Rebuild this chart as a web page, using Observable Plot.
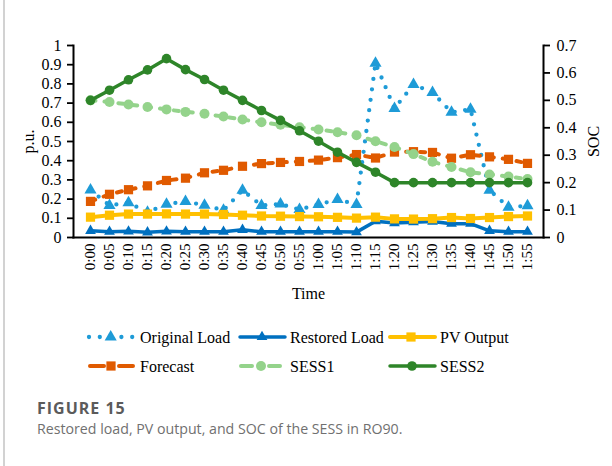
<!DOCTYPE html>
<html>
<head>
<meta charset="utf-8">
<script src="https://cdn.jsdelivr.net/npm/d3@7"></script>
<script src="https://cdn.jsdelivr.net/npm/@observablehq/plot@0.6"></script>
<style>
  html, body { margin: 0; padding: 0; background: #fff; }
  #fig { position: relative; width: 612px; height: 466px; overflow: hidden; background: #fff; }
  #border { position: absolute; left: 3px; top: 0; width: 1.5px; height: 466px; background: #d2d2d2; }
  #chart { position: absolute; left: 0; top: 0; }
  #legend { position: absolute; left: 0; top: 310px; }
  #figlabel { position: absolute; left: 37px; top: 397px; font-family: "Open Sans", sans-serif; font-weight: 700; font-size: 16px; color: #5b5b5b; letter-spacing: 1px; }
  #figcap { position: absolute; left: 37px; top: 419px; font-family: "Open Sans", sans-serif; font-size: 14.2px; color: #707070; }
</style>
</head>
<body>
<div id="fig">
  <div id="border"></div>
  <div id="chart"></div>
  <div id="legend"></div>
  <div id="figlabel">FIGURE 15</div>
  <div id="figcap">Restored load, PV output, and SOC of the SESS in RO90.</div>
</div>
<script>
// ---- data ----
const times = ["0:00","0:05","0:10","0:15","0:20","0:25","0:30","0:35","0:40","0:45","0:50","0:55",
               "1:00","1:05","1:10","1:15","1:20","1:25","1:30","1:35","1:40","1:45","1:50","1:55"];
// left axis (p.u.)
const originalLoad = [0.248,0.167,0.181,0.132,0.173,0.188,0.168,0.142,0.246,0.167,0.174,0.146,
                      0.172,0.198,0.172,0.908,0.672,0.797,0.755,0.652,0.668,0.246,0.158,0.165];
const restoredLoad = [0.035,0.030,0.032,0.027,0.032,0.030,0.030,0.030,0.040,0.030,0.030,0.030,
                      0.030,0.030,0.028,0.085,0.075,0.080,0.083,0.072,0.072,0.035,0.030,0.030];
const pvOutput     = [0.106,0.116,0.122,0.122,0.123,0.122,0.122,0.120,0.116,0.112,0.111,0.109,
                      0.108,0.105,0.101,0.106,0.097,0.096,0.098,0.104,0.099,0.104,0.109,0.112];
const forecast     = [0.188,0.225,0.249,0.269,0.297,0.309,0.337,0.350,0.371,0.385,0.391,0.396,
                      0.403,0.416,0.432,0.414,0.445,0.447,0.443,0.413,0.431,0.420,0.407,0.386];
// right axis (SOC)
const sess1        = [0.500,0.494,0.485,0.476,0.467,0.458,0.451,0.441,0.430,0.420,0.411,0.402,
                      0.394,0.384,0.373,0.351,0.330,0.304,0.276,0.257,0.238,0.230,0.222,0.213];
const sess2        = [0.500,0.537,0.575,0.611,0.652,0.612,0.576,0.537,0.500,0.463,0.427,0.389,
                      0.351,0.311,0.274,0.238,0.200,0.200,0.200,0.200,0.200,0.200,0.200,0.200];
const puTicks  = [0,0.1,0.2,0.3,0.4,0.5,0.6,0.7,0.8,0.9,1];
const socTicks = [0,0.1,0.2,0.3,0.4,0.5,0.6,0.7];
const socMax = 0.7, puMax = 1;
const seriesNames = ["Original Load","Restored Load","PV Output","Forecast","SESS1","SESS2"];

// ---- styles ----
const FONT = "'Liberation Serif', 'Times New Roman', serif";
const series = [
  {name: seriesNames[0], values: originalLoad, axis: "pu",  color: "#1E9BD7", width: 4.3, dash: "0 10.5", legendDash: "0 10.8", symbol: "triangle", r: 4.5},
  {name: seriesNames[1], values: restoredLoad, axis: "pu",  color: "#0070C0", width: 3.5, dash: null,     legendDash: null,     symbol: "triangle", r: 4.0},
  {name: seriesNames[2], values: pvOutput,     axis: "pu",  color: "#FFC000", width: 4.0, dash: null,     legendDash: null,     symbol: "square",   r: 5.2},
  {name: seriesNames[3], values: forecast,     axis: "pu",  color: "#E05A00", width: 4.0, dash: "5 9",    legendDash: "14 15",  symbol: "square",   r: 5.2},
  {name: seriesNames[4], values: sess1,        axis: "soc", color: "#94D38B", width: 4.0, dash: "5 9",    legendDash: "11 17",  symbol: "circle",   r: 5.0},
  {name: seriesNames[5], values: sess2,        axis: "soc", color: "#2E8529", width: 3.5, dash: null,     legendDash: null,     symbol: "circle",   r: 4.8}
];
const toPu = (s, v) => s.axis === "soc" ? v * puMax / socMax : v;
const fmt = v => String(+v.toFixed(2));

const seriesMarks = [];
for (const s of series) {
  const rows = times.map((t, i) => ({t, v: toPu(s, s.values[i])}));
  seriesMarks.push(Plot.line(rows, {x: "t", y: "v", stroke: s.color, strokeWidth: s.width,
    strokeDasharray: s.dash || undefined, strokeLinecap: "round", strokeLinejoin: "round"}));
  seriesMarks.push(Plot.dot(rows, {x: "t", y: "v", symbol: s.symbol, r: s.r, fill: s.color, stroke: "none"}));
}

const chart = Plot.plot({
  width: 612, height: 310,
  marginLeft: 73, marginRight: 69, marginTop: 45, marginBottom: 73,
  style: {fontFamily: FONT, fontSize: "16px", color: "#000", background: "transparent", overflow: "visible"},
  x: {type: "point", domain: times, padding: 0.5},
  y: {domain: [0, puMax]},
  marks: [
    Plot.axisY(puTicks, {anchor: "left", tickSize: 6, tickPadding: 6, strokeWidth: 1.8, tickFormat: fmt, label: null, fontSize: 16}),
    Plot.axisY(socTicks.map(v => v * puMax / socMax), {anchor: "right", tickSize: 6, tickPadding: 7, strokeWidth: 1.8,
      tickFormat: d => fmt(d * socMax / puMax), label: null, fontSize: 16}),
    Plot.axisX({tickRotate: -90, tickSize: 0, tickPadding: 6, label: null, fontSize: 15}),
    Plot.frame({anchor: "left", stroke: "#000", strokeWidth: 2}),
    Plot.frame({anchor: "right", stroke: "#000", strokeWidth: 2}),
    Plot.frame({anchor: "bottom", stroke: "#000", strokeWidth: 2}),
    Plot.text(["p.u."], {text: d => d, frameAnchor: "left", dx: -45, rotate: -90, textAnchor: "middle", lineAnchor: "middle", fontSize: 16}),
    Plot.text(["SOC"], {text: d => d, frameAnchor: "right", dx: 50, rotate: -90, textAnchor: "middle", lineAnchor: "middle", fontSize: 16}),
    Plot.text(["Time"], {text: d => d, frameAnchor: "bottom", dy: 56, textAnchor: "middle", lineAnchor: "middle", fontSize: 16}),
    ...seriesMarks
  ]
});
document.getElementById("chart").appendChild(chart);

// ---- legend ----
const legendPos = [
  {x0: 89,  x1: 132.5, xm: 110.7, tx: 140, y: 27},
  {x0: 240, x1: 285,   xm: 262,   tx: 290, y: 27},
  {x0: 390, x1: 435,   xm: 411,   tx: 440, y: 27},
  {x0: 90,  x1: 135,   xm: 111,   tx: 140, y: 56},
  {x0: 241, x1: 280,   xm: 261,   tx: 290, y: 56},
  {x0: 390, x1: 435,   xm: 412,   tx: 440, y: 56}
];
const lg = d3.select("#legend").append("svg").attr("width", 612).attr("height", 80);
const symMap = {triangle: d3.symbolTriangle, square: d3.symbolSquare, circle: d3.symbolCircle};
series.forEach((s, i) => {
  const p = legendPos[i];
  const g = lg.append("g");
  g.append("line").attr("x1", p.x0).attr("x2", p.x1).attr("y1", p.y).attr("y2", p.y)
    .attr("stroke", s.color).attr("stroke-width", s.width).attr("stroke-linecap", "round")
    .attr("stroke-dasharray", s.legendDash);
  g.append("path").attr("transform", `translate(${p.xm},${p.y})`)
    .attr("d", d3.symbol(symMap[s.symbol], Math.PI * s.r * s.r)()).attr("fill", s.color);
  g.append("text").attr("x", p.tx).attr("y", p.y).attr("dy", "0.35em")
    .attr("font-family", FONT).attr("font-size", 16).attr("fill", "#000").text(s.name);
});
</script>
</body>
</html>
